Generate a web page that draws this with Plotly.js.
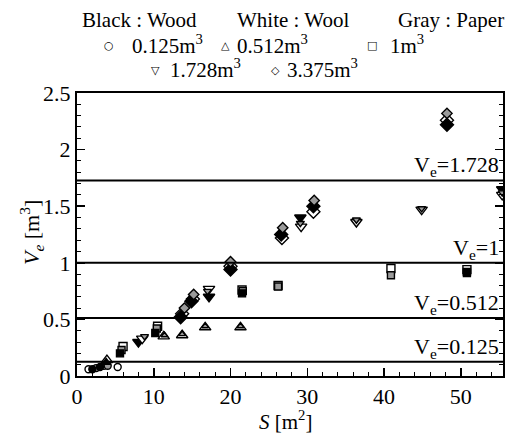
<!DOCTYPE html>
<html>
<head>
<meta charset="utf-8">
<script src="https://cdn.plot.ly/plotly-3.0.1.min.js"></script>
<style>html,body{margin:0;padding:0;background:#fff;}#chart{width:508px;height:434px;}</style>
</head>
<body>
<div id="chart"></div>
<script>
// Volume 0.125 m3 (circle)
const wood_0125_S = [2.0, 3.0];
const wood_0125_V = [0.06, 0.08];
const wool_0125_S = [1.5, 3.5, 5.3];
const wool_0125_V = [0.06, 0.09, 0.08];
const paper_0125_S = [2.5, 4.0];
const paper_0125_V = [0.07, 0.09];
// Volume 0.512 m3 (triangle-up)
const wood_0512_S = [3.8];
const wood_0512_V = [0.12];
const wool_0512_S = [3.9, 11.3, 13.7, 16.7, 21.3];
const wool_0512_V = [0.14, 0.35, 0.36, 0.43, 0.43];
const paper_0512_S = [11.4, 13.7, 16.7, 21.3];
const paper_0512_V = [0.36, 0.37, 0.44, 0.44];
// Volume 1 m3 (square)
const wood_1_S = [5.6, 10.2, 21.5, 50.8];
const wood_1_V = [0.2, 0.38, 0.73, 0.91];
const wool_1_S = [6.0, 10.5, 21.5, 26.2, 40.9, 50.8];
const wool_1_V = [0.26, 0.44, 0.76, 0.8, 0.95, 0.94];
const paper_1_S = [5.8, 10.4, 21.6, 26.2, 40.9, 50.8];
const paper_1_V = [0.23, 0.42, 0.75, 0.79, 0.89, 0.92];
// Volume 1.728 m3 (triangle-down)
const wood_1728_S = [8.0, 15.0, 17.2, 29.1, 55.4];
const wood_1728_V = [0.3, 0.66, 0.7, 1.4, 1.65];
const wool_1728_S = [8.5, 17.2, 29.2, 36.4, 44.9, 55.4];
const wool_1728_V = [0.33, 0.77, 1.32, 1.36, 1.47, 1.6];
const paper_1728_S = [8.8, 17.0, 29.1, 36.4, 44.9, 55.4];
const paper_1728_V = [0.35, 0.75, 1.35, 1.38, 1.48, 1.62];
// Volume 3.375 m3 (diamond)
const wood_3375_S = [13.5, 14.9, 20.0, 26.6, 30.8, 48.2];
const wood_3375_V = [0.52, 0.66, 0.94, 1.25, 1.5, 2.22];
const wool_3375_S = [13.7, 15.1, 20.0, 26.7, 30.8, 48.2];
const wool_3375_V = [0.55, 0.68, 0.97, 1.22, 1.45, 2.26];
const paper_3375_S = [14.0, 15.2, 20.0, 26.8, 30.9, 48.2];
const paper_3375_V = [0.6, 0.72, 1.01, 1.31, 1.55, 2.32];

// reference lines
const refLevels = [0.125, 0.512, 1, 1.728];
const refLabels = ['V<sub>e</sub>=0.125', 'V<sub>e</sub>=0.512', 'V<sub>e</sub>=1', 'V<sub>e</sub>=1.728'];

// axis ticks
const xTicks = [0, 10, 20, 30, 40, 50];
const yTicks = [0, 0.5, 1, 1.5, 2, 2.5];

const FONT = 'Liberation Serif, Times New Roman, serif';
const fills = {wool: '#ffffff', paper: '#9a9a9a', wood: '#000000'};

function tr(S, V, sym, mat, size) {
  return {
    x: S, y: V, type: 'scatter', mode: 'markers', showlegend: false,
    cliponaxis: true,
    marker: {symbol: sym, size: size, color: fills[mat], line: {color: '#000', width: 1.4}}
  };
}

const data = [
  tr(wool_0125_S, wool_0125_V, 'circle', 'wool', 7),
  tr(paper_0125_S, paper_0125_V, 'circle', 'paper', 7),
  tr(wood_0125_S, wood_0125_V, 'circle', 'wood', 7),
  tr(wool_0512_S, wool_0512_V, 'triangle-up', 'wool', 10),
  tr(paper_0512_S, paper_0512_V, 'triangle-up', 'paper', 6),
  tr(wood_0512_S, wood_0512_V, 'triangle-up', 'wood', 8),
  tr(wool_1_S, wool_1_V, 'square', 'wool', 8),
  tr(paper_1_S, paper_1_V, 'square', 'paper', 7),
  tr(wood_1_S, wood_1_V, 'square', 'wood', 7),
  tr(wood_1728_S, wood_1728_V, 'triangle-down', 'wood', 10),
  tr(wool_1728_S, wool_1728_V, 'triangle-down', 'wool', 10),
  tr(paper_1728_S, paper_1728_V, 'triangle-down', 'paper', 7),
  tr(wool_3375_S, wool_3375_V, 'diamond', 'wool', 10),
  tr(wood_3375_S, wood_3375_V, 'diamond', 'wood', 10),
  tr(paper_3375_S, paper_3375_V, 'diamond', 'paper', 8)
];

const shapes = refLevels.map(v => ({
  type: 'line', xref: 'paper', yref: 'y', x0: 0, x1: 1, y0: v, y1: v,
  line: {color: '#000', width: 2}
}));

const annotations = refLevels.map((v, i) => ({
  xref: 'paper', yref: 'y', x: 0.995, y: v, xanchor: 'right', yanchor: 'bottom',
  text: refLabels[i], showarrow: false, font: {family: FONT, size: 22, color: '#000'}, yshift: -2
}));

// header and axis titles, placed in paper coords
const W = 426, H = 283, L = 77, T = 93;
function px(x) { return (x - L) / W; }
function py(y) { return (T + H - y) / H; }
function ann(text, x, y, xanchor, size, family, angle) {
  return {xref: 'paper', yref: 'paper', x: px(x), y: py(y), xanchor: xanchor, yanchor: 'middle',
    text: text, showarrow: false, textangle: angle || 0, borderpad: 0,
    font: {family: family || FONT, size: size || 21, color: '#000'}};
}
annotations.push(
  ann('Black : Wood', 139, 20, 'center'),
  ann('White : Wool', 293, 20, 'center'),
  ann('Gray : Paper', 451, 20, 'center'),
  ann('○', 109, 46, 'center', 11, 'DejaVu Sans'),
  ann('0.125m<sup>3</sup>', 131, 45, 'left'),
  ann('△', 225, 46, 'center', 11, 'DejaVu Sans'),
  ann('0.512m<sup>3</sup>', 236, 45, 'left'),
  ann('□', 372, 46, 'center', 11, 'DejaVu Sans'),
  ann('1m<sup>3</sup>', 389, 45, 'left'),
  ann('▽', 155, 70, 'center', 11, 'DejaVu Sans'),
  ann('1.728m<sup>3</sup>', 169, 68, 'left'),
  ann('◇', 275, 70, 'center', 11, 'DejaVu Sans'),
  ann('3.375m<sup>3</sup>', 286, 68, 'left'),
  ann('<i>S</i> [m<sup>2</sup>]', 285, 420, 'center', 21),
  ann('<i>V<sub>e</sub></i> [m<sup>3</sup>]', 31, 233, 'center', 22, null, -90)
);

const layout = {
  width: 508, height: 434,
  margin: {l: 77, r: 5, t: 93, b: 58},
  paper_bgcolor: '#fff', plot_bgcolor: '#fff',
  font: {family: FONT, size: 22, color: '#000'},
  showlegend: false,
  xaxis: {
    range: [0, 55.5], tickvals: xTicks,
    ticks: 'inside', ticklen: 8, tickwidth: 1.5, tickcolor: '#000',
    minor: {dtick: 2, ticks: 'inside', ticklen: 4, tickwidth: 1, tickcolor: '#000'},
    showline: true, linecolor: '#000', linewidth: 2, mirror: true,
    showgrid: false, zeroline: false,
    tickfont: {family: FONT, size: 22, color: '#000'}
  },
  yaxis: {
    range: [0, 2.5], tickvals: yTicks,
    ticks: 'inside', ticklen: 8, tickwidth: 1.5, tickcolor: '#000',
    minor: {dtick: 0.1, ticks: 'inside', ticklen: 4, tickwidth: 1, tickcolor: '#000'},
    showline: true, linecolor: '#000', linewidth: 2, mirror: 'ticks',
    showgrid: false, zeroline: false,
    tickfont: {family: FONT, size: 22, color: '#000'}
  },
  shapes: shapes,
  annotations: annotations
};

Plotly.newPlot('chart', data, layout, {displayModeBar: false, staticPlot: true});
</script>
</body>
</html>
